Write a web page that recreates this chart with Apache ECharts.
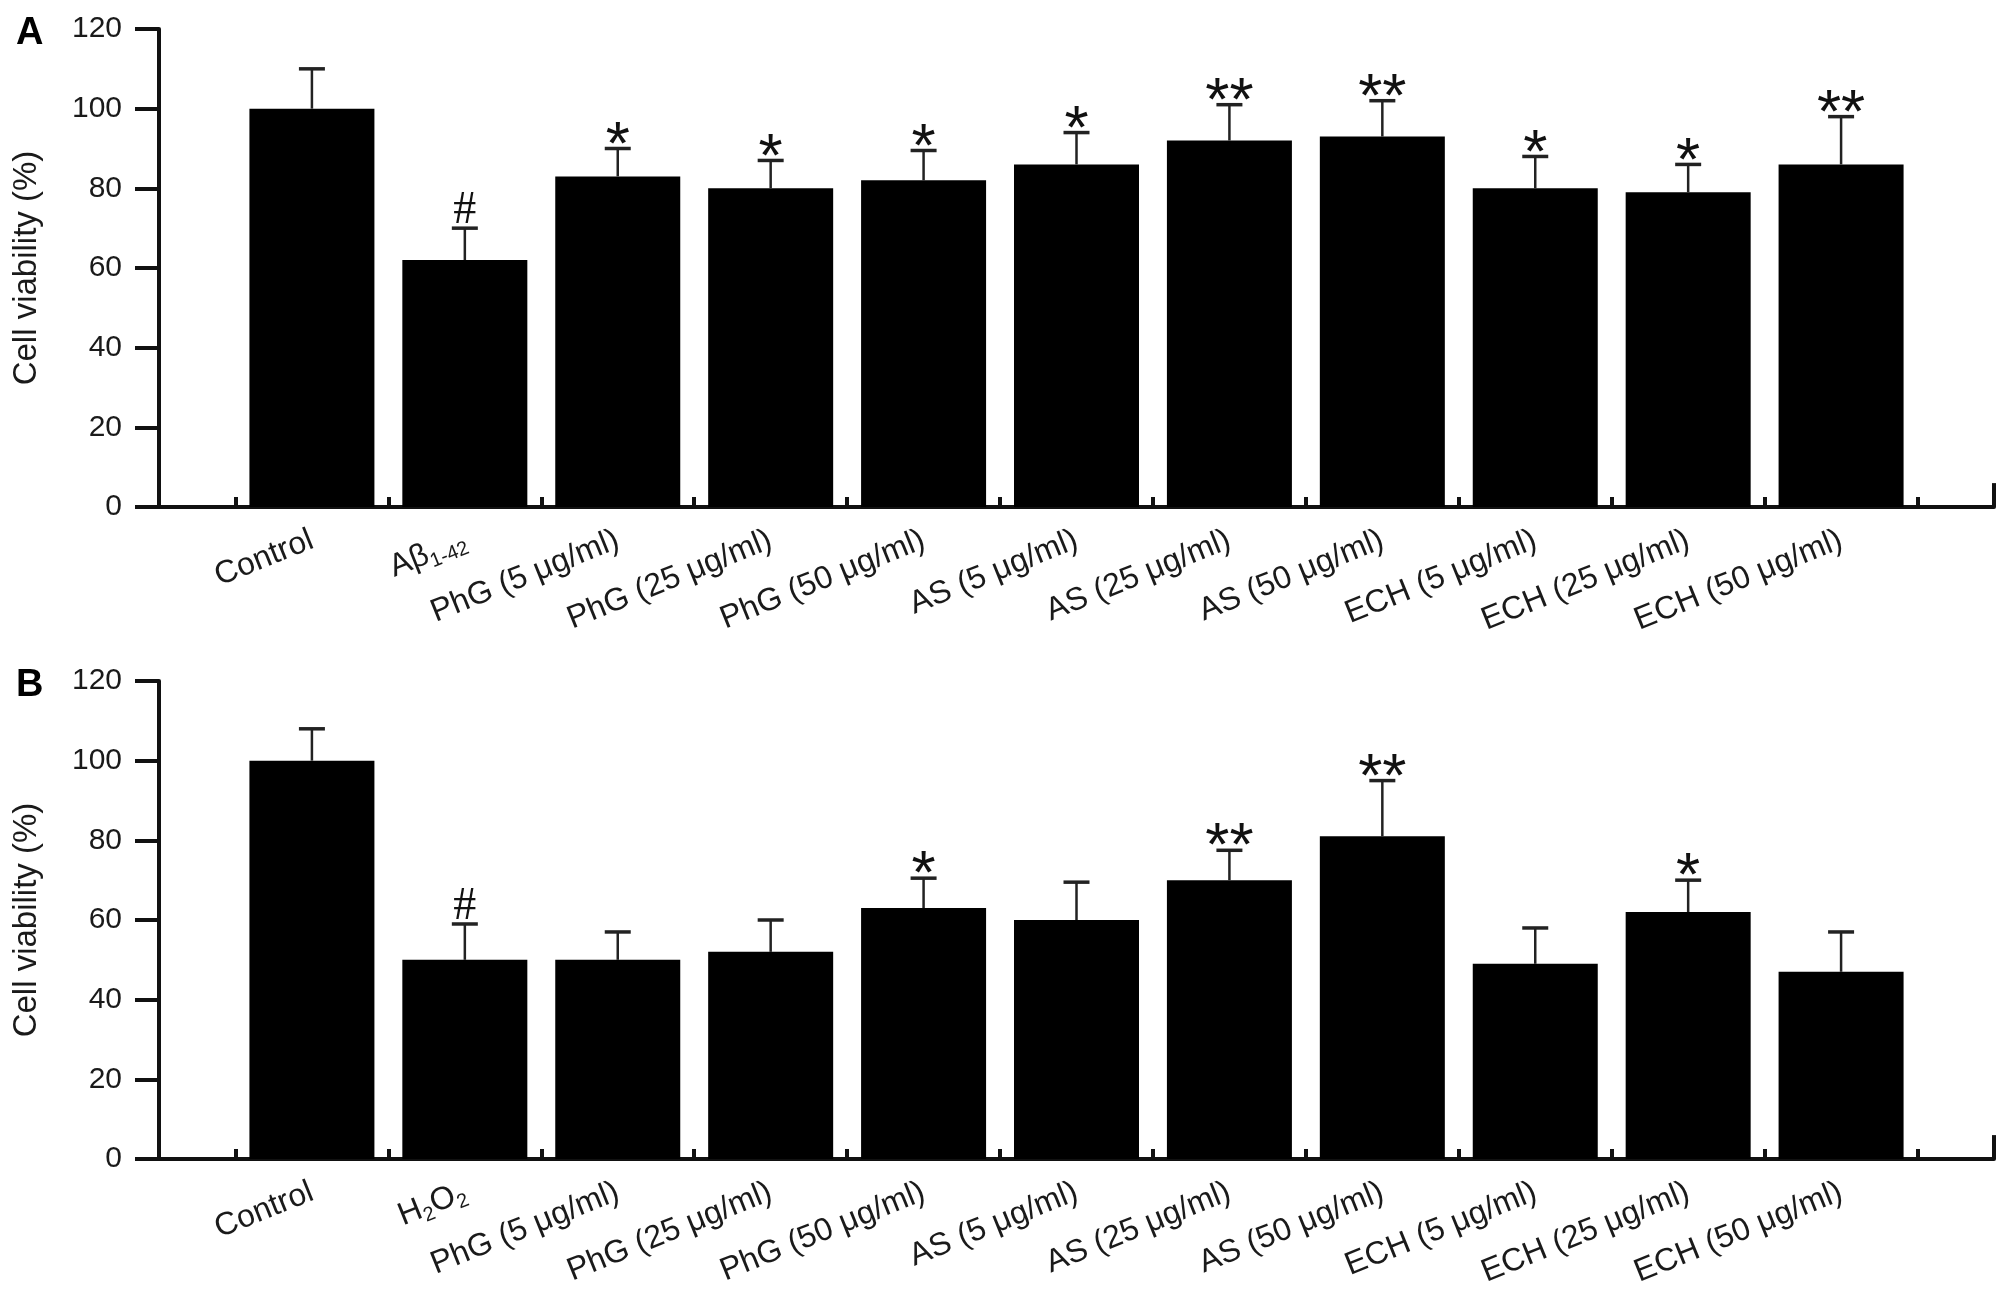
<!DOCTYPE html>
<html><head><meta charset="utf-8">
<script src="https://cdn.jsdelivr.net/npm/echarts@6/dist/echarts.min.js"></script>
<style>html,body{margin:0;padding:0;background:#fff}#c{width:2008px;height:1305px}</style>
</head><body><div id="c"></div>
<script>
// ---- data ----
const categoriesA = ['Control', 'A\u03b2{sub|1-42}', 'PhG (5 \u03bcg/ml)', 'PhG (25 \u03bcg/ml)', 'PhG (50 \u03bcg/ml)',
  'AS (5 \u03bcg/ml)', 'AS (25 \u03bcg/ml)', 'AS (50 \u03bcg/ml)', 'ECH (5 \u03bcg/ml)', 'ECH (25 \u03bcg/ml)', 'ECH (50 \u03bcg/ml)'];
const categoriesB = ['Control', 'H{sub|2}O{sub|2}', 'PhG (5 \u03bcg/ml)', 'PhG (25 \u03bcg/ml)', 'PhG (50 \u03bcg/ml)',
  'AS (5 \u03bcg/ml)', 'AS (25 \u03bcg/ml)', 'AS (50 \u03bcg/ml)', 'ECH (5 \u03bcg/ml)', 'ECH (25 \u03bcg/ml)', 'ECH (50 \u03bcg/ml)'];
const valuesA = [100, 62, 83, 80, 82, 86, 92, 93, 80, 79, 86];
const errorsA = [10, 8, 7, 7, 7.5, 8, 9, 9, 8, 7, 12];
const sigA = ['', '#', '*', '*', '*', '*', '**', '**', '*', '*', '**'];
const valuesB = [100, 50, 50, 52, 63, 60, 70, 81, 49, 62, 47];
const errorsB = [8, 9, 7, 8, 7.5, 9.5, 7.5, 14, 9, 8, 10];
const sigB = ['', '#', '', '', '*', '', '**', '**', '', '*', ''];
const yTicks = [0, 20, 40, 60, 80, 100, 120];
const yLabel = 'Cell viability (%)';
const panelLetters = ['A', 'B'];

// ---- layout ----
const W = 2008, H = 1305;
const gridLeft = 159, gridRight = 14;
const gridTops = [29, 681], gridH = 478;
const n = categoriesA.length;
const xMin = -1, xMax = n;
const unitPx = (W - gridLeft - gridRight) / (xMax - xMin);
const barW = Math.round(unitPx * 0.82);
const FONT = '"Liberation Sans", Arial, Helvetica, sans-serif';
const INK = '#111';

const boundaries = [];
for (let i = 0; i <= n; i++) boundaries.push(i - 0.5);
const centers = categoriesA.map((_, i) => i);

function makeX(gi, cats) {
  return {
    type: 'value', gridIndex: gi, min: xMin, max: xMax,
    splitLine: { show: false },
    axisLine: { show: true, onZero: false, lineStyle: { color: INK, width: 4 } },
    axisTick: { show: true, inside: true, length: 10, customValues: boundaries, lineStyle: { color: INK, width: 4 } },
    axisLabel: {
      show: true, customValues: centers, rotate: 22, margin: 32,
      fontFamily: FONT, fontSize: 32, color: '#1a1a1a',
      formatter: v => cats[Math.round(v)] || '',
      rich: { sub: { fontSize: 20, fontFamily: FONT, color: '#1a1a1a', padding: [18, 0, 0, 0] } }
    }
  };
}
function makeY(gi) {
  return {
    type: 'value', gridIndex: gi, min: yTicks[0], max: yTicks[yTicks.length - 1], interval: yTicks[1] - yTicks[0],
    splitLine: { show: false },
    axisLine: { show: true, onZero: false, lineStyle: { color: INK, width: 4 } },
    axisTick: { show: true, inside: false, length: 24, lineStyle: { color: INK, width: 4 } },
    axisLabel: { fontFamily: FONT, fontSize: 30, color: '#1a1a1a', margin: 37 },
    name: yLabel, nameLocation: 'middle', nameGap: 116, nameRotate: 90,
    nameTextStyle: { fontFamily: FONT, fontSize: 33, color: '#1a1a1a' }
  };
}
function errRender(sig) {
  return function (params, api) {
    const x = api.value(0), v = api.value(1), e = api.value(2);
    const p0 = api.coord([x, v]);
    const p1 = api.coord([x, v + e]);
    const children = [
      { type: 'line', shape: { x1: p0[0], y1: p0[1], x2: p1[0], y2: p1[1] }, style: { stroke: '#222', lineWidth: 2.5 } },
      { type: 'line', shape: { x1: p1[0] - 13, y1: p1[1], x2: p1[0] + 13, y2: p1[1] }, style: { stroke: '#222', lineWidth: 3.5 } }
    ];
    const s = sig[params.dataIndex];
    if (s === '#') {
      children.push({ type: 'text', x: p1[0], y: p1[1] - 17, style: { text: s, font: '46px "Liberation Serif", "Times New Roman", serif', fill: '#111', align: 'center', verticalAlign: 'middle' } });
    } else if (s) {
      children.push({ type: 'text', x: p1[0], y: p1[1] - 2, style: { text: s, font: '62px ' + FONT, fill: '#111', align: 'center', verticalAlign: 'middle' } });
    }
    return { type: 'group', children };
  };
}
function endCapRender(params, api) {
  const a = api.coord([api.value(0), api.value(1)]);
  const b = api.coord([api.value(0), api.value(2)]);
  return { type: 'line', shape: { x1: a[0], y1: a[1], x2: b[0], y2: b[1] }, style: { stroke: INK, lineWidth: 4 } };
}
function barSeries(gi, vals) {
  return {
    type: 'bar', xAxisIndex: gi, yAxisIndex: gi, barWidth: barW,
    data: vals.map((v, i) => [i, v]),
    itemStyle: { color: '#000' }
  };
}
function errSeries(gi, vals, errs, sig) {
  return {
    type: 'custom', xAxisIndex: gi, yAxisIndex: gi, z: 5,
    data: vals.map((v, i) => [i, v, errs[i]]),
    renderItem: errRender(sig)
  };
}
function capSeries(gi) {
  return {
    type: 'custom', xAxisIndex: gi, yAxisIndex: gi, z: 6, clip: false,
    data: [[xMax, yTicks[0], yTicks[yTicks.length - 1] * 0.05]],
    renderItem: endCapRender
  };
}

const chart = echarts.init(document.getElementById('c'), null, { renderer: 'canvas' });
chart.setOption({
  backgroundColor: '#fff',
  animation: false,
  grid: gridTops.map(t => ({ left: gridLeft, right: gridRight, top: t, height: gridH })),
  xAxis: [makeX(0, categoriesA), makeX(1, categoriesB)],
  yAxis: [makeY(0), makeY(1)],
  series: [
    barSeries(0, valuesA), errSeries(0, valuesA, errorsA, sigA), capSeries(0),
    barSeries(1, valuesB), errSeries(1, valuesB, errorsB, sigB), capSeries(1)
  ],
  graphic: panelLetters.map((L, i) => ({
    type: 'text', left: 16, top: gridTops[i] - 14,
    style: { text: L, font: 'bold 38px ' + FONT, fill: '#000' }
  }))
});
</script></body></html>
